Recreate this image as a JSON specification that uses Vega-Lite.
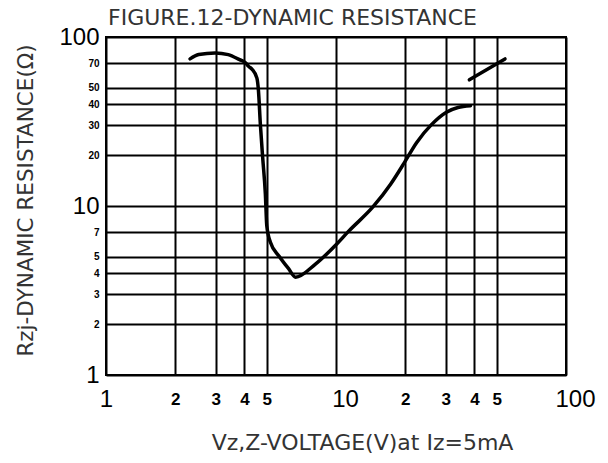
{
  "$schema": "https://vega.github.io/schema/vega-lite/v6.json",
  "width": 460,
  "height": 338,
  "autosize": {"type": "none"},
  "padding": {"left": 106, "top": 37, "right": 42, "bottom": 88},
  "background": "white",
  "title": {
    "text": "FIGURE.12-DYNAMIC RESISTANCE",
    "anchor": "start",
    "frame": "group",
    "font": "DejaVu Sans",
    "fontSize": 22,
    "fontWeight": "normal",
    "color": "#333333",
    "offset": 8,
    "dx": 2,
    "dy": 13
  },
  "config": {
    "view": {"stroke": "black", "strokeWidth": 2}
  },
  "data": {
    "values": [
      {"seg": "A", "v": 2.32, "r": 74.2},
      {"seg": "A", "v": 2.53, "r": 78.7},
      {"seg": "A", "v": 2.98, "r": 80.5},
      {"seg": "A", "v": 3.4, "r": 78.7},
      {"seg": "A", "v": 3.81, "r": 73.4},
      {"seg": "A", "v": 4.04, "r": 70.5},
      {"seg": "A", "v": 4.17, "r": 67.0},
      {"seg": "A", "v": 4.31, "r": 64.5},
      {"seg": "A", "v": 4.53, "r": 57.1},
      {"seg": "A", "v": 4.6, "r": 48.3},
      {"seg": "A", "v": 4.69, "r": 30.4},
      {"seg": "A", "v": 4.8, "r": 19.3},
      {"seg": "A", "v": 4.93, "r": 11.8},
      {"seg": "A", "v": 5.0, "r": 7.67},
      {"seg": "A", "v": 5.18, "r": 6.12},
      {"seg": "A", "v": 5.67, "r": 5.03},
      {"seg": "A", "v": 6.21, "r": 4.27},
      {"seg": "A", "v": 6.67, "r": 3.79},
      {"seg": "A", "v": 8.14, "r": 4.53},
      {"seg": "A", "v": 10.1, "r": 5.98},
      {"seg": "A", "v": 11.3, "r": 7.05},
      {"seg": "A", "v": 14.5, "r": 9.9},
      {"seg": "A", "v": 17.3, "r": 13.5},
      {"seg": "A", "v": 19.8, "r": 18.0},
      {"seg": "A", "v": 22.4, "r": 23.7},
      {"seg": "A", "v": 26.0, "r": 30.3},
      {"seg": "A", "v": 30.2, "r": 35.9},
      {"seg": "A", "v": 33.9, "r": 38.3},
      {"seg": "A", "v": 38.4, "r": 39.2},
      {"seg": "B", "v": 38.0, "r": 55.8},
      {"seg": "B", "v": 54.3, "r": 74.2}
    ]
  },
  "mark": {"type": "line", "color": "black", "strokeWidth": 3.5, "interpolate": "monotone", "strokeCap": "round"},
  "encoding": {
    "detail": {"field": "seg"},
    "x": {
      "field": "v",
      "type": "quantitative",
      "scale": {"type": "log", "domain": [1, 100]},
      "axis": {
        "values": [1, 2, 3, 4, 5, 10, 20, 30, 40, 50, 100],
        "labelExpr": "datum.value >= 20 && datum.value <= 50 ? format(datum.value / 10, 'd') : format(datum.value, 'd')",
        "ticks": false,
        "tickSize": 0,
        "domain": false,
        "grid": true,
        "gridColor": "black",
        "gridWidth": 2,
        "gridOpacity": 1,
        "labelFont": "Liberation Sans",
        "labelFontSize": {"condition": {"test": "datum.value == 1 || datum.value == 10 || datum.value == 100", "value": 24}, "value": 17},
        "labelFontWeight": {"condition": {"test": "datum.value == 1 || datum.value == 10 || datum.value == 100", "value": "normal"}, "value": "bold"},
        "labelOffset": {"condition": {"test": "datum.value == 10 || datum.value == 100", "value": 9}, "value": 0},
        "labelColor": "black",
        "labelBaseline": "middle",
        "labelPadding": 24,
        "labelOverlap": false,
        "labelFlush": false,
        "title": "Vz,Z-VOLTAGE(V)at Iz=5mA",
        "titleFont": "DejaVu Sans",
        "titleFontSize": 22,
        "titleFontWeight": "normal",
        "titleColor": "#333333",
        "titleX": 256,
        "titleY": 67,
        "titleBaseline": "middle",
        "titleAlign": "center",
        "titleAnchor": null
      }
    },
    "y": {
      "field": "r",
      "type": "quantitative",
      "scale": {"type": "log", "domain": [1, 100]},
      "axis": {
        "values": [1, 2, 3, 4, 5, 7, 10, 20, 30, 40, 50, 70, 100],
        "labelExpr": "format(datum.value, 'd')",
        "ticks": false,
        "tickSize": 0,
        "domain": false,
        "grid": true,
        "gridColor": "black",
        "gridWidth": 2,
        "gridOpacity": 1,
        "labelFont": "Liberation Sans",
        "labelFontSize": {"condition": {"test": "datum.value == 1 || datum.value == 10 || datum.value == 100", "value": 24}, "value": 10},
        "labelFontWeight": {"condition": {"test": "datum.value == 1 || datum.value == 10 || datum.value == 100", "value": "normal"}, "value": "bold"},
        "labelColor": "black",
        "labelBaseline": "middle",
        "labelAlign": "right",
        "labelPadding": 7,
        "labelOverlap": false,
        "labelFlush": false,
        "title": "Rzj-DYNAMIC RESISTANCE(Ω)",
        "titleFont": "DejaVu Sans",
        "titleFontSize": 21.5,
        "titleFontWeight": "normal",
        "titleColor": "#333333",
        "titleAngle": -90,
        "titleX": -80,
        "titleY": 163,
        "titleBaseline": "middle",
        "titleAlign": "center",
        "titleAnchor": null
      }
    }
  }
}
